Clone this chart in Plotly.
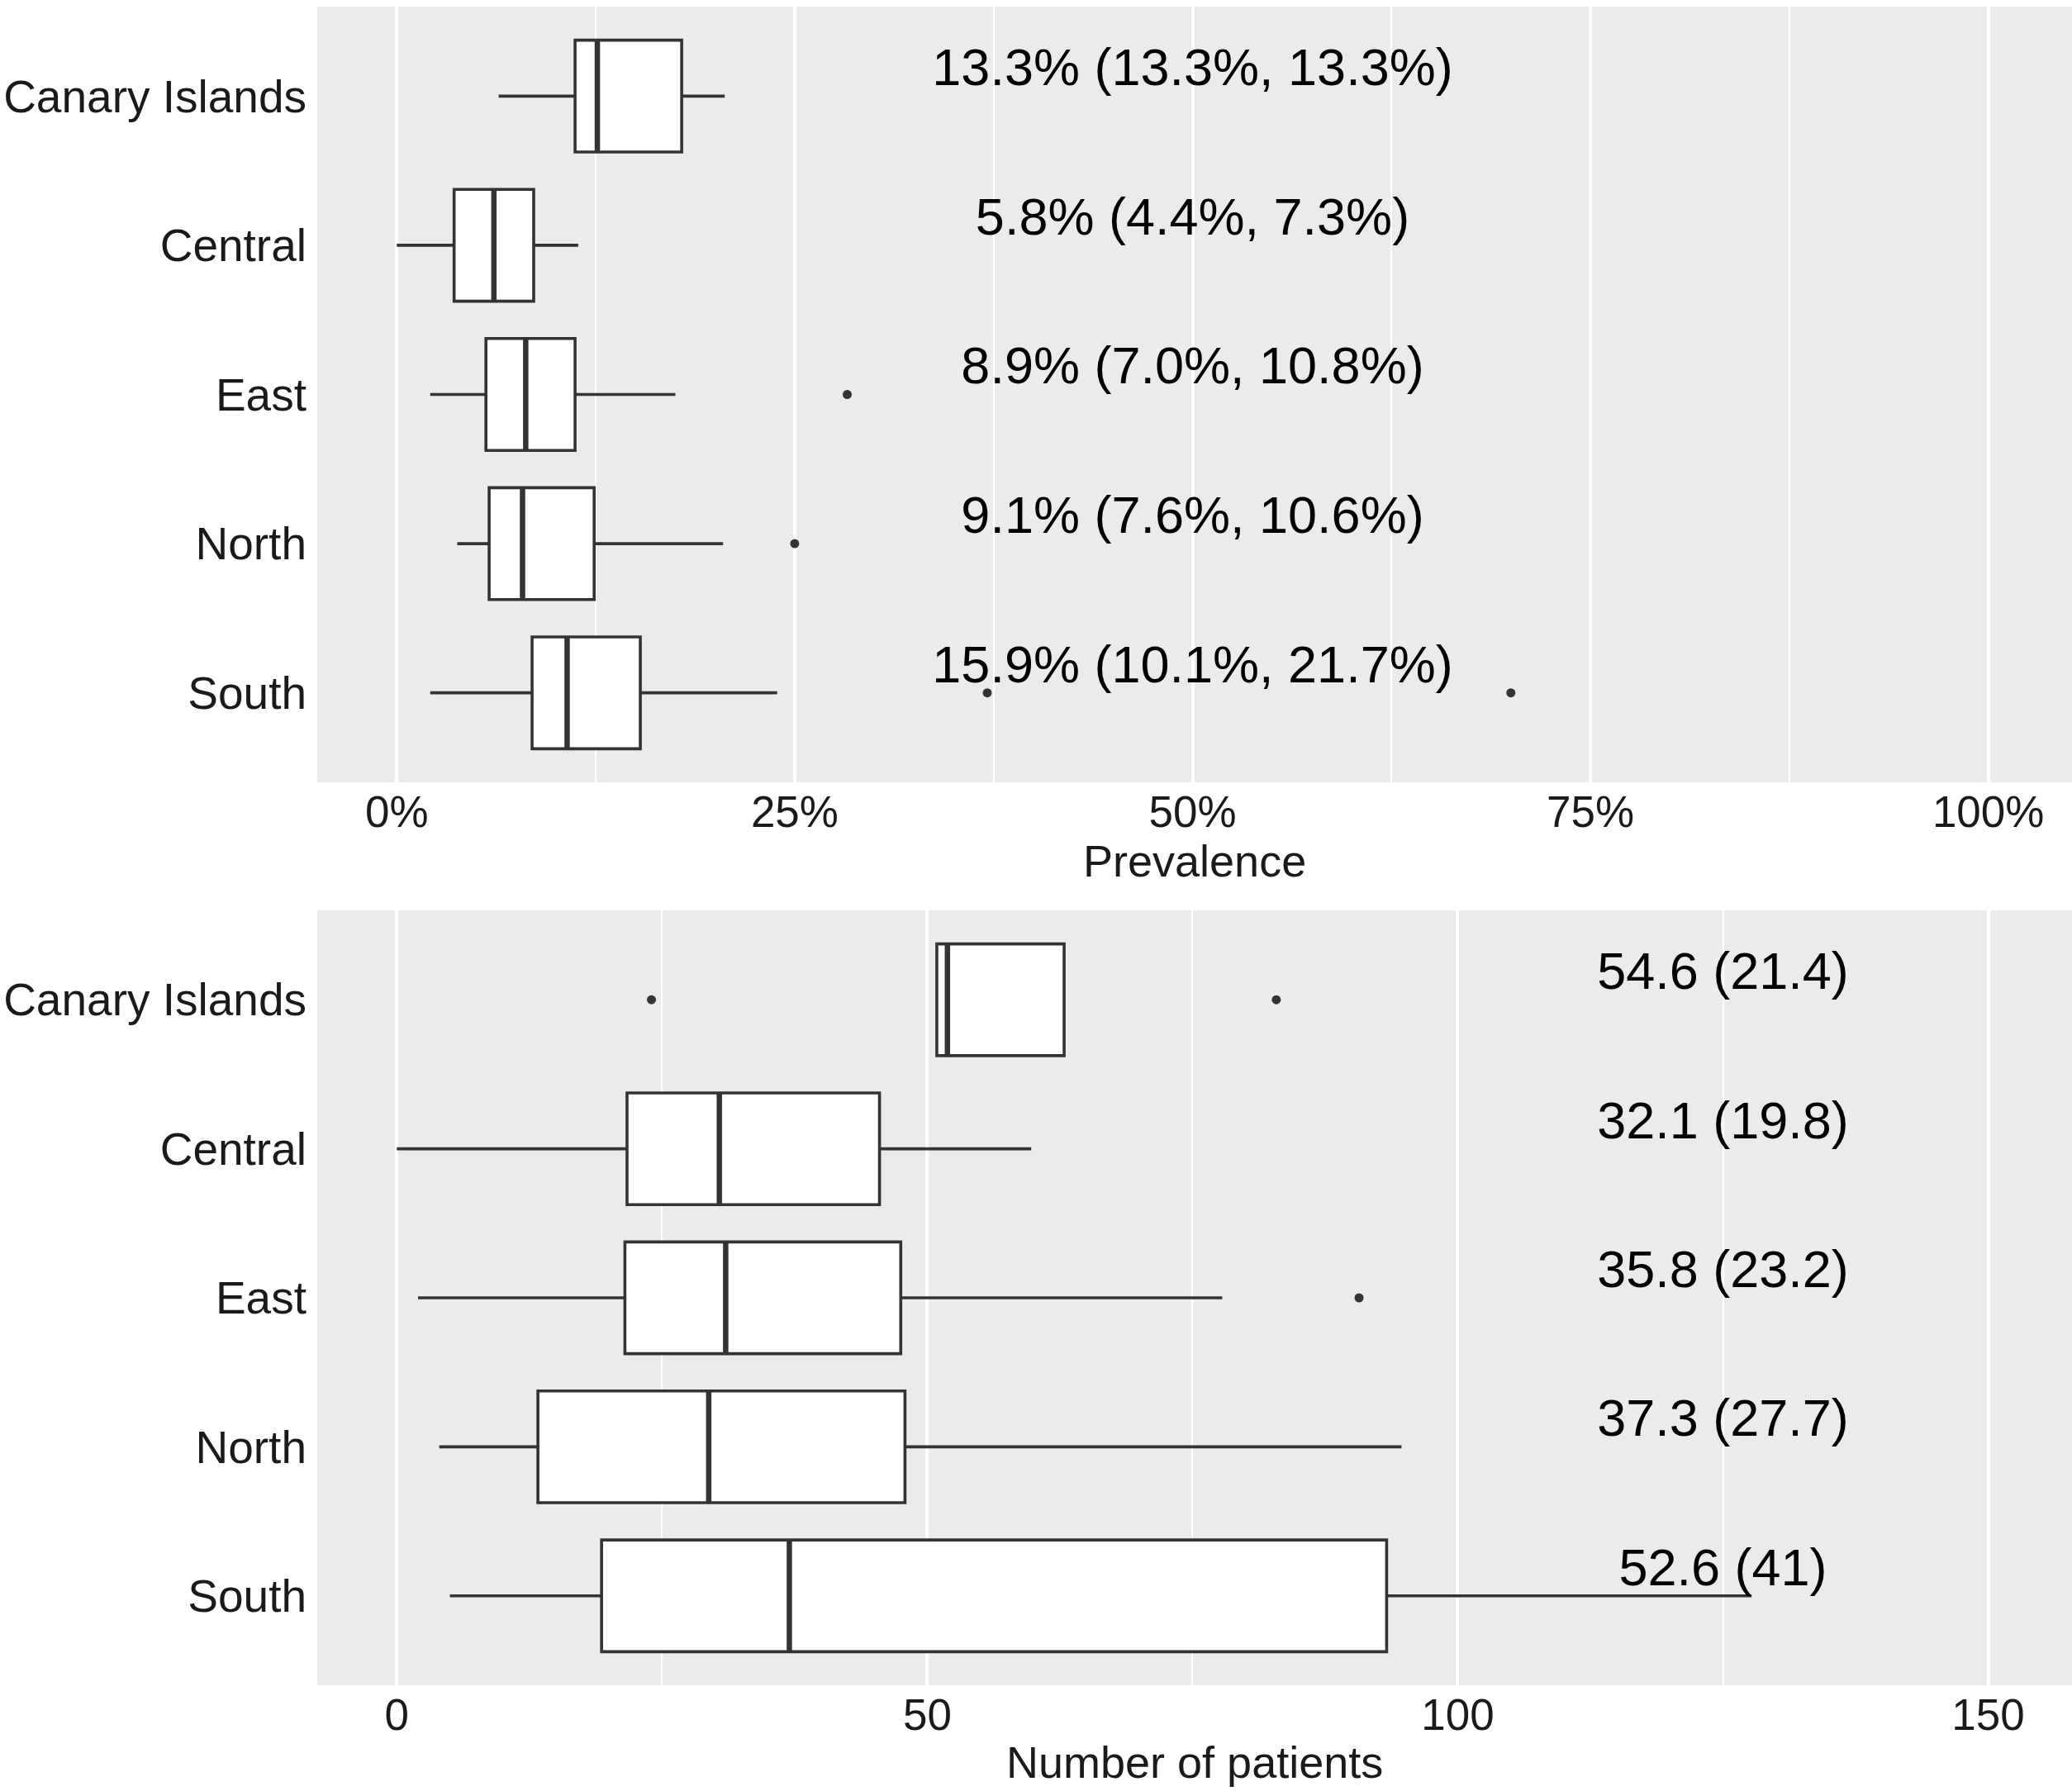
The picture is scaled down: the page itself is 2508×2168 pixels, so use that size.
import plotly.graph_objects as go

# ---------------- data ----------------
categories = ["Canary Islands", "Central", "East", "North", "South"]

# Prevalence (fractions)
prev_lower = [0.064, 0.000, 0.021, 0.038, 0.021]
prev_q1 = [0.112, 0.036, 0.056, 0.058, 0.085]
prev_median = [0.126, 0.061, 0.081, 0.079, 0.107]
prev_q3 = [0.179, 0.086, 0.112, 0.124, 0.153]
prev_upper = [0.206, 0.114, 0.175, 0.205, 0.239]
prev_outlier_cat = ["East", "North", "South", "South"]
prev_outlier_val = [0.283, 0.250, 0.371, 0.700]
prev_labels = ["13.3% (13.3%, 13.3%)", "5.8% (4.4%, 7.3%)", "8.9% (7.0%, 10.8%)",
               "9.1% (7.6%, 10.6%)", "15.9% (10.1%, 21.7%)"]
prev_label_x = 0.5

# Number of patients
pat_lower = [50.9, 0.0, 2.0, 4.0, 5.0]
pat_q1 = [50.9, 21.7, 21.5, 13.3, 19.3]
pat_median = [51.9, 30.4, 31.0, 29.4, 37.0]
pat_q3 = [62.9, 45.5, 47.5, 47.9, 93.3]
pat_upper = [62.9, 59.8, 77.8, 94.7, 127.7]
pat_outlier_cat = ["Canary Islands", "Canary Islands", "East"]
pat_outlier_val = [24.0, 82.9, 90.7]
pat_labels = ["54.6 (21.4)", "32.1 (19.8)", "35.8 (23.2)", "37.3 (27.7)", "52.6 (41)"]
pat_label_x = 125

# ---------------- styling ----------------
FONT = "Liberation Sans, Arial, sans-serif"
LINE = "#333333"
TEXT = "#1a1a1a"
BOXW = 0.75
n = len(categories)
pos = {c: n - 1 - i for i, c in enumerate(categories)}  # Canary at top
ypos = [pos[c] for c in categories]

fig = go.Figure()


def add_panel(lower, q1, med, q3, upper, out_cat, out_val, labels, label_x, xa, ya):
    fig.add_trace(go.Box(
        orientation="h", y=ypos, q1=q1, median=med, q3=q3,
        lowerfence=lower, upperfence=upper, width=BOXW,
        fillcolor="white", line=dict(color=LINE, width=3.6),
        whiskerwidth=0, boxpoints=False, showlegend=False,
        xaxis=xa, yaxis=ya, hoverinfo="skip"))
    mx, my = [], []
    for c, m in zip(categories, med):
        mx += [m, m, None]
        my += [pos[c] - BOXW / 2, pos[c] + BOXW / 2, None]
    fig.add_trace(go.Scatter(x=mx, y=my, mode="lines",
                             line=dict(color=LINE, width=6.5),
                             showlegend=False, xaxis=xa, yaxis=ya, hoverinfo="skip"))
    fig.add_trace(go.Scatter(x=out_val, y=[pos[c] for c in out_cat], mode="markers",
                             marker=dict(color=LINE, size=11),
                             showlegend=False, xaxis=xa, yaxis=ya, hoverinfo="skip"))
    fig.add_trace(go.Scatter(x=[label_x] * n, y=[p + 0.16 for p in ypos], mode="text",
                             text=labels, textposition="middle center",
                             textfont=dict(family=FONT, size=63, color="black"),
                             showlegend=False, xaxis=xa, yaxis=ya, hoverinfo="skip"))


add_panel(prev_lower, prev_q1, prev_median, prev_q3, prev_upper,
          prev_outlier_cat, prev_outlier_val, prev_labels, prev_label_x, "x", "y")
add_panel(pat_lower, pat_q1, pat_median, pat_q3, pat_upper,
          pat_outlier_cat, pat_outlier_val, pat_labels, pat_label_x, "x2", "y2")

W, H = 2508, 2168
xdom = [384 / W, 1.0]
top_dom = [1 - 947 / H, 1 - 8 / H]
bot_dom = [1 - 2040 / H, 1 - 1102 / H]

common_x = dict(showgrid=True, gridcolor="white", gridwidth=4, zeroline=False,
                showline=False, ticks="", ticklabelstandoff=0,
                tickfont=dict(family=FONT, size=53, color=TEXT), domain=xdom)
common_y = dict(showgrid=False, zeroline=False, showline=False, ticks="",
                tickmode="array", tickvals=ypos, ticktext=categories,
                range=[-0.6, n - 1 + 0.6], ticklabelstandoff=12,
                tickfont=dict(family=FONT, size=55, color=TEXT))

fig.update_layout(
    width=W, height=H, margin=dict(l=0, r=0, t=0, b=0, autoexpand=False),
    paper_bgcolor="white", plot_bgcolor="#EBEBEB",
    xaxis=dict(**common_x, range=[-0.05, 1.0526], tickvals=[0, 0.25, 0.5, 0.75, 1.0],
               tickformat=".0%", anchor="y",
               minor=dict(showgrid=True, gridcolor="white", gridwidth=2,
                          tickvals=[0.125, 0.375, 0.625, 0.875])),
    yaxis=dict(**common_y, domain=top_dom, anchor="x"),
    xaxis2=dict(**common_x, range=[-7.5, 157.9], tickvals=[0, 50, 100, 150], anchor="y2",
                minor=dict(showgrid=True, gridcolor="white", gridwidth=2,
                           tickvals=[25, 75, 125])),
    yaxis2=dict(**common_y, domain=bot_dom, anchor="x2"),
    annotations=[
        dict(text="Prevalence", x=(384 + W) / 2 / W, y=1 - 1042 / H, xref="paper", yref="paper",
             xanchor="center", yanchor="middle", showarrow=False,
             font=dict(family=FONT, size=54, color=TEXT)),
        dict(text="Number of patients", x=(384 + W) / 2 / W, y=1 - 2133 / H, xref="paper",
             yref="paper", xanchor="center", yanchor="middle", showarrow=False,
             font=dict(family=FONT, size=54, color=TEXT)),
    ],
)

fig.write_html("out.html", config={"displayModeBar": False},
               post_script="document.body.style.margin='0';")
